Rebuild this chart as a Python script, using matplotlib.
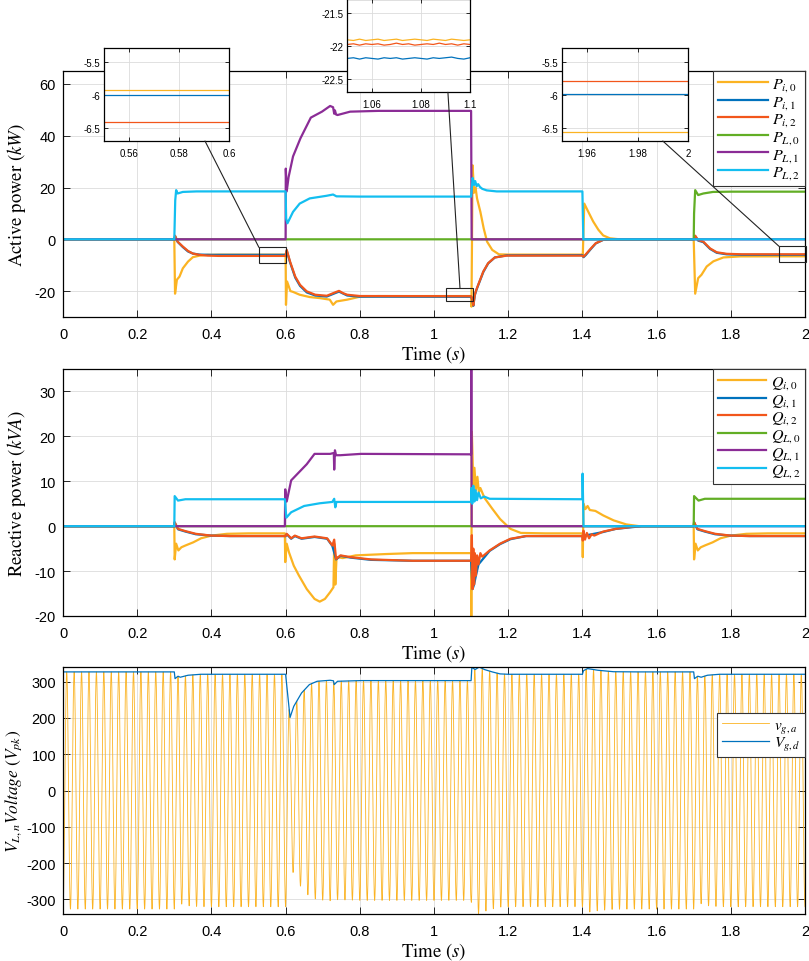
import numpy as np
import matplotlib
matplotlib.use("Agg")
import matplotlib.pyplot as plt
from matplotlib.patches import Rectangle, ConnectionPatch
from matplotlib.ticker import FuncFormatter

plt.rcParams['font.family'] = ['Liberation Sans', 'DejaVu Sans']
plt.rcParams['mathtext.fontset'] = 'stix'

# ---------------- data (t in s, value) ----------------
# active power, kW
p_i0 = [(0, 0), (0.3, 0), (0.302, -21), (0.307, -15.6), (0.314, -14.4), (0.323, -11.2),
        (0.337, -8.6), (0.35, -6.9), (0.368, -6.3), (0.39, -6.0), (0.42, -5.92), (0.6, -5.92),
        (0.601, -25.3), (0.604, -16.3), (0.613, -20), (0.62, -20.3), (0.638, -21.4),
        (0.665, -22.3), (0.692, -22.7), (0.719, -23.3), (0.728, -25.3), (0.737, -24),
        (0.766, -23.3), (0.802, -22.1), (0.85, -21.92), (1.1, -21.91), (1.101, -26),
        (1.104, 28.6), (1.108, 18), (1.112, 20), (1.116, 15.8), (1.125, 10.6), (1.134, 4.2),
        (1.143, -0.9), (1.157, -4.1), (1.175, -5.8), (1.2, -5.9), (1.4, -5.9), (1.401, -6.5),
        (1.405, 13.8), (1.416, 10.6), (1.429, 6.9), (1.443, 3.7), (1.456, 1.5), (1.474, 0.4),
        (1.5, 0), (1.7, 0), (1.704, -21), (1.712, -15), (1.721, -13.7), (1.735, -10.5),
        (1.753, -8.5), (1.78, -7.0), (1.825, -6.6), (2.0, -6.56)]
p_i1 = [(0, 0), (0.3, 0), (0.302, 1.2), (0.309, -1.0), (0.323, -3.0), (0.337, -4.7),
        (0.35, -5.5), (0.368, -5.9), (0.4, -6.0), (0.6, -6.0), (0.603, -4.3), (0.612, -8.9),
        (0.626, -14.8), (0.639, -18.0), (0.657, -20.5), (0.68, -21.7), (0.711, -22.1),
        (0.735, -20.7), (0.744, -20.2), (0.766, -21.7), (0.8, -22.15), (1.1, -22.19),
        (1.103, -23.2), (1.106, -25.7), (1.11, -21.6), (1.114, -19.7), (1.119, -17.8),
        (1.133, -12.6), (1.146, -9.3), (1.164, -7.0), (1.196, -6.2), (1.4, -6.1),
        (1.403, -6.9), (1.409, -6.1), (1.423, -3.7), (1.436, -1.6), (1.456, -0.2), (1.48, 0),
        (1.7, 0), (1.704, 1.2), (1.712, -0.5), (1.726, -1.1), (1.744, -3.7), (1.762, -5.2),
        (1.789, -5.8), (1.83, -5.99), (2.0, -5.99)]
p_i2 = [(0, 0), (0.3, 0), (0.302, 1.4), (0.309, -0.9), (0.323, -2.8), (0.337, -4.5),
        (0.35, -5.5), (0.368, -6.0), (0.39, -6.3), (0.42, -6.41), (0.6, -6.41), (0.603, -4.1),
        (0.612, -8.6), (0.626, -14.4), (0.639, -17.6), (0.657, -20.1), (0.68, -21.4),
        (0.711, -21.8), (0.735, -20.4), (0.744, -19.9), (0.755, -20.8), (0.766, -21.4),
        (0.8, -21.9), (1.1, -21.98), (1.103, -23), (1.106, -25.5), (1.11, -21.4),
        (1.114, -19.5), (1.119, -17.6), (1.133, -12.4), (1.146, -9.2), (1.164, -7.0),
        (1.196, -6.3), (1.4, -6.3), (1.403, -6.7), (1.409, -5.8), (1.423, -3.5),
        (1.436, -1.5), (1.456, -0.2), (1.48, 0), (1.7, 0), (1.704, 1.4), (1.712, -0.3),
        (1.726, -0.9), (1.744, -3.5), (1.762, -5.0), (1.789, -5.6), (1.83, -5.78), (2.0, -5.78)]
p_l0 = [(0, 0), (1.7, 0), (1.701, 10), (1.704, 19), (1.712, 17.1), (1.726, 17.7),
        (1.752, 18.3), (1.8, 18.4), (2.0, 18.4)]
p_l1 = [(0, 0), (0.6, 0), (0.6005, 27.3), (0.603, 18.5), (0.608, 24), (0.62, 32), (0.64, 39),
        (0.668, 47), (0.698, 49.3), (0.72, 51.5), (0.728, 51), (0.731, 48.5), (0.733, 49.8),
        (0.736, 48.2), (0.74, 48), (0.774, 49.3), (0.85, 49.6), (1.1, 49.6), (1.1015, 0),
        (2.0, 0)]
p_l2 = [(0, 0), (0.3, 0), (0.3025, 15), (0.305, 19), (0.309, 17.7), (0.323, 18.3),
        (0.36, 18.5), (0.6, 18.5), (0.6015, 8), (0.605, 6.2), (0.62, 10.6), (0.638, 13.8),
        (0.665, 15.8), (0.71, 16.8), (0.728, 17.3), (0.737, 16.6), (0.8, 16.5), (1.1, 16.5),
        (1.102, 20), (1.104, 23.7), (1.108, 21), (1.111, 22.5), (1.115, 20.5), (1.119, 21.3),
        (1.124, 20.2), (1.13, 19.5), (1.142, 18.9), (1.169, 18.5), (1.4, 18.5), (1.4025, 0),
        (2.0, 0)]

# reactive power, kVA
q_i0 = [(0, 0), (0.3, 0), (0.301, -7.4), (0.305, -3.9), (0.311, -5.4), (0.319, -4.7),
        (0.33, -4.3), (0.351, -3.6), (0.372, -2.7), (0.4, -2.1), (0.442, -1.7), (0.5, -1.6),
        (0.598, -1.6), (0.599, -8.0), (0.603, -3.9), (0.609, -5.8), (0.622, -8.8),
        (0.636, -11), (0.657, -14), (0.678, -16.2), (0.692, -16.8), (0.706, -16.2),
        (0.72, -14.7), (0.729, -13.6), (0.731, -3.9), (0.734, -13), (0.737, -7.5),
        (0.74, -6.9), (0.754, -7.1), (0.789, -6.5), (0.872, -6.2), (0.942, -6.0), (1.1, -6.0),
        (1.1005, -20), (1.102, 21), (1.106, 9), (1.109, 13), (1.113, 8), (1.117, 11),
        (1.121, 7.5), (1.125, 8.5), (1.136, 6.3), (1.157, 3.9), (1.178, 1.6), (1.206, -0.6),
        (1.234, -1.5), (1.3, -1.6), (1.4, -1.6), (1.401, -6.9), (1.403, 5.0), (1.408, 3.8),
        (1.414, 4.5), (1.42, 3.6), (1.435, 3.4), (1.456, 2.4), (1.484, 1.3), (1.518, 0.4),
        (1.553, 0), (1.7, 0), (1.701, -7.4), (1.705, -3.9), (1.711, -5.4), (1.719, -4.7),
        (1.73, -4.3), (1.751, -3.6), (1.772, -2.7), (1.8, -2.1), (1.842, -1.7), (1.9, -1.6),
        (2.0, -1.6)]
q_i1 = [(0, 0), (0.3, 0), (0.301, 0.8), (0.31, -0.7), (0.33, -1.2), (0.358, -1.8),
        (0.4, -2.1), (0.45, -2.2), (0.6, -2.2), (0.603, -1.8), (0.615, -2.8), (0.625, -2.2),
        (0.643, -2.8), (0.678, -2.4), (0.712, -2.8), (0.726, -4.4), (0.736, -7.4),
        (0.748, -6.6), (0.775, -7.0), (0.83, -7.5), (0.942, -7.7), (1.1, -7.7), (1.104, -14),
        (1.108, -13), (1.113, -11), (1.12, -8.5), (1.15, -5.5), (1.178, -4.0), (1.206, -2.9),
        (1.248, -2.2), (1.4, -2.2), (1.456, -1.3), (1.49, -0.6), (1.56, 0), (1.7, 0),
        (1.701, 0.8), (1.71, -0.7), (1.73, -1.2), (1.758, -1.8), (1.8, -2.1), (1.85, -2.2),
        (2.0, -2.2)]
q_i2 = [(0, 0), (0.3, 0), (0.301, 0.9), (0.31, -0.6), (0.33, -1.1), (0.358, -1.7),
        (0.4, -2.1), (0.45, -2.2), (0.6, -2.2), (0.603, -1.7), (0.615, -2.7), (0.625, -2.1),
        (0.643, -2.7), (0.678, -2.3), (0.712, -2.7), (0.726, -4.3), (0.731, -3.0),
        (0.736, -7.3), (0.748, -6.5), (0.775, -6.9), (0.83, -7.4), (0.942, -7.7), (1.1, -7.7),
        (1.102, -2), (1.104, -14), (1.106, -5), (1.108, -13), (1.11, -6), (1.113, -11),
        (1.116, -6.5), (1.12, -8.5), (1.125, -6), (1.13, -6.8), (1.15, -5.4), (1.178, -3.9),
        (1.206, -2.8), (1.248, -2.2), (1.4, -2.2), (1.401, -3.2), (1.403, -1.0),
        (1.407, -3.0), (1.412, -1.5), (1.418, -2.7), (1.425, -1.8), (1.432, -2.1),
        (1.456, -1.2), (1.49, -0.6), (1.539, -0.1), (1.56, 0), (1.7, 0), (1.701, 0.9),
        (1.71, -0.6), (1.73, -1.1), (1.758, -1.7), (1.8, -2.1), (1.85, -2.2), (2.0, -2.2)]
q_l0 = [(0, 0), (1.7, 0), (1.701, 6.7), (1.713, 5.7), (1.73, 6.1), (2.0, 6.1)]
q_l1 = [(0, 0), (0.598, 0), (0.599, 8.2), (0.603, 5.5), (0.615, 10.2), (0.636, 12),
        (0.657, 13.8), (0.678, 16.1), (0.72, 16.1), (0.73, 16.3), (0.731, 12.6),
        (0.733, 16.9), (0.736, 15.8), (0.747, 15.8), (0.803, 16.1), (1.1, 16.0),
        (1.1005, 40), (1.1015, 0), (2.0, 0)]
q_l2 = [(0, 0), (0.3, 0), (0.301, 6.7), (0.31, 5.7), (0.33, 6.0), (0.598, 6.0),
        (0.602, 1.9), (0.615, 3.1), (0.65, 4.5), (0.692, 5.1), (0.726, 5.4), (0.731, 6.1),
        (0.734, 4.2), (0.737, 5.4), (1.1, 5.4), (1.101, 8.5), (1.103, 5), (1.106, 9),
        (1.109, 5.5), (1.112, 8), (1.116, 5.8), (1.12, 7.5), (1.126, 6.2), (1.135, 6.6),
        (1.15, 6.1), (1.4, 6.0), (1.4005, 11.7), (1.403, 0), (2.0, 0)]

# grid voltage d-axis magnitude, V
v_gd = [(0, 326.5), (0.3, 326.5), (0.302, 308), (0.31, 314.6), (0.316, 311.8),
        (0.337, 317.3), (0.372, 320), (0.6, 320), (0.612, 201), (0.622, 231.7),
        (0.643, 268.5), (0.664, 291.5), (0.685, 300.7), (0.72, 303.5), (0.729, 302),
        (0.731, 291.5), (0.74, 300.7), (0.803, 302.6), (1.1, 302.5), (1.102, 339),
        (1.111, 333), (1.122, 340), (1.136, 333), (1.157, 326.5), (1.178, 321), (1.2, 320),
        (1.4, 320), (1.403, 330), (1.414, 335.6), (1.442, 331), (1.484, 327), (1.55, 326.5),
        (1.7, 326.5), (1.702, 308), (1.711, 314.6), (1.72, 311.8), (1.737, 317.3),
        (1.77, 320), (2.0, 320)]
grid_freq = 50  # Hz

# zoom windows
zoom_a_t = [0.55, 0.6]
zoom_a = {'i0': [-5.92, -5.92], 'i1': [-6.0, -6.0], 'i2': [-6.41, -6.41]}
zoom_b_t = [1.05, 1.0525, 1.055, 1.0575, 1.06, 1.0625, 1.065, 1.0675, 1.07, 1.0725,
            1.075, 1.0775, 1.08, 1.0825, 1.085, 1.0875, 1.09, 1.0925, 1.095, 1.0975, 1.1]
zoom_b = {
    'i0': [-21.91, -21.92, -21.90, -21.92, -21.91, -21.90, -21.92, -21.91, -21.90, -21.92,
           -21.91, -21.90, -21.91, -21.92, -21.90, -21.91, -21.92, -21.90, -21.91, -21.92, -21.91],
    'i1': [-22.19, -22.18, -22.20, -22.18, -22.19, -22.20, -22.18, -22.19, -22.18, -22.20,
           -22.19, -22.18, -22.19, -22.20, -22.18, -22.19, -22.18, -22.17, -22.19, -22.20, -22.18],
    'i2': [-21.98, -21.97, -21.99, -21.97, -21.98, -21.97, -21.99, -21.98, -21.96, -21.98,
           -21.97, -21.99, -21.98, -21.97, -21.98, -21.96, -21.98, -21.97, -21.99, -21.97, -21.98],
}
zoom_c_t = [1.95, 2.0]
zoom_c = {'i0': [-6.56, -6.56], 'i1': [-5.985, -5.985], 'i2': [-5.78, -5.78]}

C_Y = '#FBB322'
C_B = '#0072BD'
C_R = '#F2561B'
C_G = '#62AE25'
C_P = '#8B2C96'
C_C = '#13BEF0'

TIME_TICKS = np.arange(0, 2.01, 0.2)
fmt = FuncFormatter(lambda v, p: '%g' % round(v, 6))
LBL = dict(family='STIXGeneral', fontsize=13.5)


def style_axes(ax, tick_size=10.5, pad=7, length=5):
    ax.tick_params(direction='in', top=True, right=True, length=length, width=0.7,
                   labelsize=tick_size, pad=pad, color='#262626')
    ax.tick_params(axis='y', pad=pad - 2)
    ax.grid(True, color='#DCDCDC', lw=0.6)
    ax.set_axisbelow(True)
    for s in ax.spines.values():
        s.set_linewidth(0.9)
    ax.xaxis.set_major_formatter(fmt)
    ax.yaxis.set_major_formatter(fmt)


def add_legend(ax, size, spacing, hlen, anchor=(1, 1)):
    leg = ax.legend(loc='upper right', bbox_to_anchor=anchor, borderaxespad=0,
                    fontsize=size, handlelength=hlen, handletextpad=0.3,
                    labelspacing=spacing, borderpad=0.3, fancybox=False,
                    framealpha=1, edgecolor='#333333')
    leg.get_frame().set_linewidth(0.8)
    return leg


def xy(series):
    a = np.array(series, dtype=float)
    return a[:, 0], a[:, 1]


fig = plt.figure(figsize=(8.09, 9.62), dpi=100)
L, W = 63 / 809, 742 / 809
ax1 = fig.add_axes([L, 1 - 318 / 962, W, 246 / 962])
ax2 = fig.add_axes([L, 1 - 617 / 962, W, 247 / 962])
ax3 = fig.add_axes([L, 1 - 915 / 962, W, 247 / 962])

# ---- panel 1: active power
p_series = [(p_i0, C_Y, r'$P_{i,0}$'), (p_i1, C_B, r'$P_{i,1}$'), (p_i2, C_R, r'$P_{i,2}$'),
            (p_l0, C_G, r'$P_{L,0}$'), (p_l1, C_P, r'$P_{L,1}$'), (p_l2, C_C, r'$P_{L,2}$')]
for s, c, lab in p_series:
    t, v = xy(s)
    ax1.plot(t, v, color=c, lw=1.6, label=lab)
ax1.set_xlim(0, 2)
ax1.set_ylim(-30, 65)
ax1.set_xticks(TIME_TICKS)
ax1.set_yticks([-20, 0, 20, 40, 60])
style_axes(ax1)
ax1.set_ylabel(r'Active power $(kW)$', **LBL)
ax1.set_xlabel(r'Time $(s)$', **LBL)
add_legend(ax1, 11.5, 0.0, 3.1)

# ---- panel 2: reactive power
q_series = [(q_i0, C_Y, r'$Q_{i,0}$'), (q_i1, C_B, r'$Q_{i,1}$'), (q_i2, C_R, r'$Q_{i,2}$'),
            (q_l0, C_G, r'$Q_{L,0}$'), (q_l1, C_P, r'$Q_{L,1}$'), (q_l2, C_C, r'$Q_{L,2}$')]
for s, c, lab in q_series:
    t, v = xy(s)
    ax2.plot(t, v, color=c, lw=1.6, label=lab)
ax2.set_xlim(0, 2)
ax2.set_ylim(-20, 35)
ax2.set_xticks(TIME_TICKS)
ax2.set_yticks(np.arange(-20, 31, 10))
style_axes(ax2)
ax2.set_ylabel(r'Reactive power $(kVA)$', **LBL)
ax2.set_xlabel(r'Time $(s)$', **LBL)
add_legend(ax2, 11.5, 0.0, 3.0)

# ---- panel 3: voltage
tg, vg = xy(v_gd)
t_wave = np.linspace(0, 2, 40001)
v_ga = -np.interp(t_wave, tg, vg) * np.cos(2 * np.pi * grid_freq * t_wave)
ax3.plot(t_wave, v_ga, color=C_Y, lw=0.6, label=r'$v_{g,a}$')
ax3.plot(tg, vg, color=C_B, lw=0.9, label=r'$V_{g,d}$')
ax3.set_xlim(0, 2)
ax3.set_ylim(-340, 340)
ax3.set_xticks(TIME_TICKS)
ax3.set_yticks(np.arange(-300, 301, 100))
style_axes(ax3)
ax3.set_ylabel(r'$V_{L,n}Voltage\ (V_{pk})$', family='STIXGeneral', fontsize=12.5)
ax3.set_xlabel(r'Time $(s)$', **LBL)
add_legend(ax3, 11, 0.0, 3.1, anchor=(1, 0.814))

for ax, x in ((ax1, -0.047), (ax2, -0.047), (ax3, -0.052)):
    ax.yaxis.set_label_coords(x, 0.5)
    ax.xaxis.set_label_coords(0.5, -0.105)

# ---- insets on panel 1
IH = 93 / 962
insets = [
    ([104 / 809, 1 - 142 / 962, 125 / 809, IH], zoom_a_t, zoom_a, (0.55, 0.6), (-6.69, -5.29),
     [0.56, 0.58, 0.6], [-6.5, -6, -5.5]),
    ([347.3 / 809, 1 - 93.3 / 962, 122.7 / 809, IH], zoom_b_t, zoom_b, (1.05, 1.1),
     (-22.7, -21.3), [1.06, 1.08, 1.1], [-22.5, -22, -21.5]),
    ([562 / 809, 1 - 142 / 962, 126 / 809, IH], zoom_c_t, zoom_c, (1.95, 2.0), (-6.69, -5.29),
     [1.96, 1.98, 2.0], [-6.5, -6, -5.5]),
]
ins_axes = []
for rect, tz, dz, xl, yl, xt, yt in insets:
    ia = fig.add_axes(rect)
    for key, c in (('i0', C_Y), ('i1', C_B), ('i2', C_R)):
        ia.plot(tz, dz[key], color=c, lw=0.9)
    ia.set_xlim(*xl)
    ia.set_ylim(*yl)
    ia.set_xticks(xt)
    ia.set_yticks(yt)
    style_axes(ia, tick_size=7, pad=5, length=3)
    ia.set_facecolor('white')
    ins_axes.append(ia)

# zoom boxes and connector lines
boxes = [(0.528, -9.2, 0.073, 6.1), (1.032, -23.8, 0.073, 5.0), (1.930, -8.9, 0.073, 6.2)]
for x0, y0, w, h in boxes:
    ax1.add_patch(Rectangle((x0, y0), w, h, fill=False, ec='#222222', lw=0.8,
                            zorder=5, clip_on=False))
links = [((0.5904, -6.69), (0.528, -3.1)), ((1.091, -22.7), (1.070, -18.8)),
         ((1.990, -6.69), (1.930, -2.7))]
for ia, (pa, pb) in zip(ins_axes, links):
    con = ConnectionPatch(xyA=pa, coordsA=ia.transData, xyB=pb, coordsB=ax1.transData,
                          color='#222222', lw=0.8)
    fig.add_artist(con)

fig.savefig('out.png', dpi=100)
